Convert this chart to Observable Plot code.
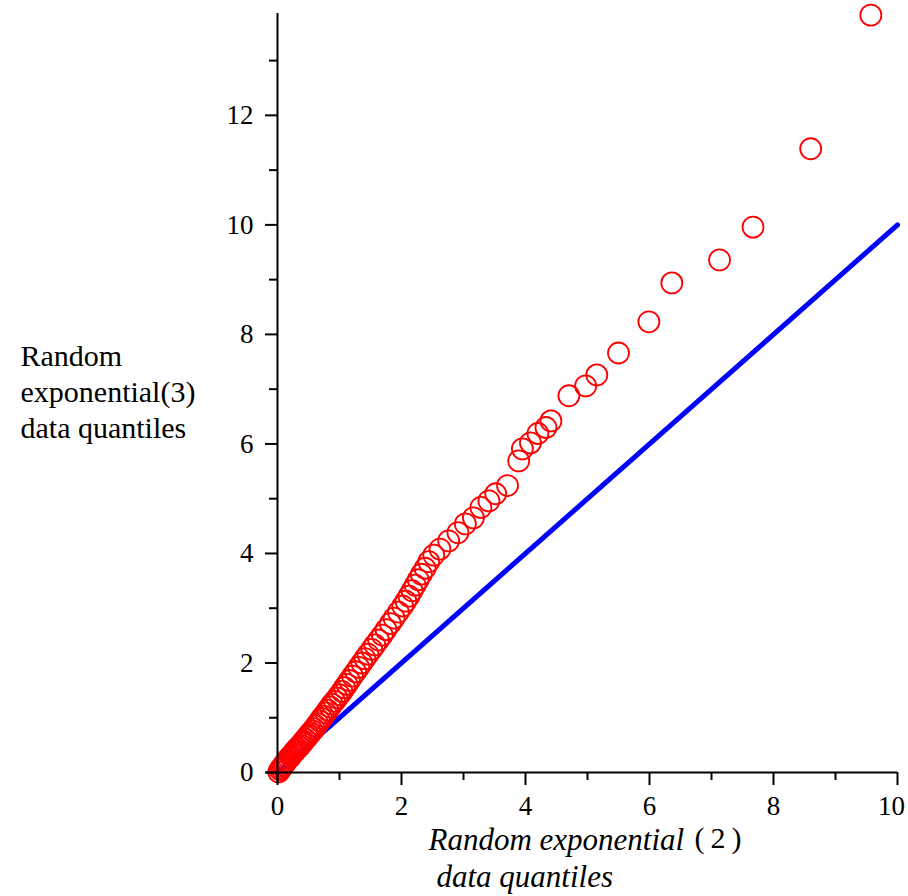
<!DOCTYPE html>
<html>
<head>
<meta charset="utf-8">
<script src="https://cdn.jsdelivr.net/npm/d3@7"></script>
<script src="https://cdn.jsdelivr.net/npm/@observablehq/plot@0.6"></script>
<style>
  html, body { margin: 0; padding: 0; background: #fff; }
  #chart svg { display: block; }
</style>
</head>
<body>
<div id="chart"></div>
<script>
// Sample quantiles: Random exponential(2) (x) vs Random exponential(3) (y)
const qx = [
  0.02, 0.04, 0.06, 0.08, 0.10, 0.12, 0.14, 0.16, 0.18, 0.21,
  0.23, 0.25, 0.27, 0.30, 0.32, 0.35, 0.37, 0.40, 0.42, 0.45,
  0.48, 0.50, 0.53, 0.56, 0.59, 0.62, 0.65, 0.68, 0.71, 0.74,
  0.78, 0.81, 0.85, 0.88, 0.92, 0.96, 1.00, 1.04, 1.08, 1.12,
  1.16, 1.21, 1.26, 1.31, 1.36, 1.41, 1.46, 1.52, 1.57, 1.63,
  1.69, 1.75, 1.82, 1.88, 1.95, 2.02, 2.07, 2.12, 2.17, 2.22,
  2.27, 2.32, 2.38, 2.44, 2.52, 2.62, 2.76, 2.91, 3.03, 3.16,
  3.28, 3.41, 3.52, 3.71, 3.89, 3.95, 4.08, 4.20, 4.33, 4.41,
  4.70, 4.97, 5.15, 5.50, 5.99, 6.36, 7.13, 7.67, 8.60, 9.57
];
const qy = [
  0.01, 0.05, 0.08, 0.11, 0.14, 0.17, 0.20, 0.23, 0.26, 0.29,
  0.32, 0.35, 0.38, 0.41, 0.44, 0.47, 0.50, 0.54, 0.57, 0.61,
  0.65, 0.68, 0.72, 0.76, 0.80, 0.85, 0.89, 0.94, 0.99, 1.03,
  1.09, 1.14, 1.20, 1.25, 1.30, 1.36, 1.42, 1.48, 1.55, 1.61,
  1.68, 1.76, 1.84, 1.92, 2.00, 2.08, 2.16, 2.25, 2.33, 2.42,
  2.51, 2.61, 2.72, 2.82, 2.93, 3.04, 3.13, 3.22, 3.32, 3.42,
  3.52, 3.62, 3.73, 3.85, 3.97, 4.08, 4.23, 4.38, 4.54, 4.65,
  4.84, 4.96, 5.09, 5.24, 5.69, 5.91, 6.02, 6.19, 6.30, 6.42,
  6.88, 7.06, 7.26, 7.66, 8.23, 8.94, 9.36, 9.96, 11.39, 13.83
];
// Reference line y = x
const refX = [0, 10];
const refY = [0, 10];

const xMajor = [0, 2, 4, 6, 8, 10];
const xMinor = [1, 3, 5, 7, 9];
const yMajor = [0, 2, 4, 6, 8, 10, 12];
const yMinor = [1, 3, 5, 7, 9, 11, 13];

const xLabel1 = "Random exponential";
const xLabel2 = "(\u20092\u2009)";
const xLabel3 = "data quantiles";
const yLabel = "Random\nexponential(3)\ndata quantiles";

const points = qx.map((x, i) => ({x, y: qy[i]}));
const ref = refX.map((x, i) => ({x, y: refY[i]}));
const lastX = xMajor[xMajor.length - 1];

const serif = "'Liberation Serif', 'Times New Roman', serif";

const chart = Plot.plot({
  width: 908,
  height: 896,
  marginLeft: 277,
  marginRight: 11,
  marginTop: 13,
  marginBottom: 124,
  style: {fontFamily: serif, fontSize: "27px", color: "#000", background: "#fff"},
  x: {domain: [0, 10]},
  y: {domain: [0, 13.86]},
  marks: [
    Plot.line(ref, {x: "x", y: "y", stroke: "#0000ff", strokeWidth: 5}),
    Plot.dot(points, {x: "x", y: "y", r: 10.5, stroke: "#ff0000", strokeWidth: 1.8, fill: "none"}),
    Plot.ruleX([0], {y1: -0.2, y2: 13.86, stroke: "#000", strokeWidth: 2}),
    Plot.ruleY([0], {x1: -0.19, x2: 10, stroke: "#000", strokeWidth: 2}),
    Plot.axisX(xMajor, {tickSize: 13, tickPadding: 10, strokeWidth: 2, label: null, fontSize: 27,
      tickFormat: d => d === lastX ? "" : String(d)}),
    Plot.axisX([lastX], {tickSize: 0, tickPadding: 23, dx: -6, label: null, fontSize: 27, tickFormat: d => String(d)}),
    Plot.axisX(xMinor, {tickSize: 8, strokeWidth: 2, label: null, tickFormat: () => ""}),
    Plot.axisY(yMajor, {tickSize: 12, tickPadding: 12, strokeWidth: 2, label: null, fontSize: 27, tickFormat: d => String(d)}),
    Plot.axisY(yMinor, {tickSize: 8, strokeWidth: 2, label: null, tickFormat: () => ""}),
    Plot.text([yLabel], {frameAnchor: "left", textAnchor: "start", lineAnchor: "middle", lineHeight: 1.2, dx: -257, dy: -3, fontSize: 30, fill: "#000"}),
    Plot.text([xLabel1], {frameAnchor: "bottom", textAnchor: "start", lineAnchor: "middle", dx: -159, dy: 68, fontSize: 31, fontStyle: "italic", fill: "#000"}),
    Plot.text([xLabel2], {frameAnchor: "bottom", textAnchor: "start", lineAnchor: "middle", dx: 107, dy: 66, fontSize: 30, fill: "#000"}),
    Plot.text([xLabel3], {frameAnchor: "bottom", textAnchor: "start", lineAnchor: "middle", dx: -151, dy: 105, fontSize: 31, fontStyle: "italic", fill: "#000"})
  ]
});
document.getElementById("chart").appendChild(chart);
</script>
</body>
</html>
